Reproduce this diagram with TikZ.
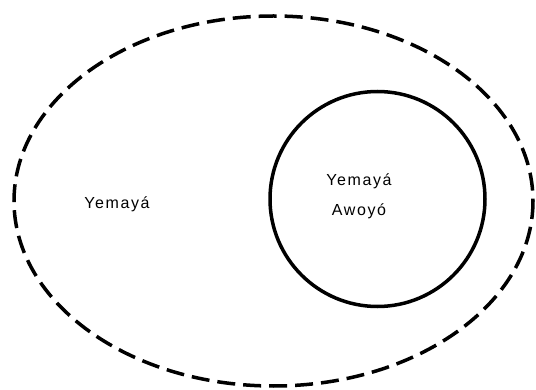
\documentclass[tikz,border=0pt]{standalone}
\usepackage{fontspec}
\setmainfont{Liberation Sans}[LetterSpace=10]
\usepackage{tikz}
\usetikzlibrary{positioning}

\begin{document}
\begin{tikzpicture}[
    x=1pt, y=-1pt,
    outer/.style={draw, line width=3.5pt, dash pattern=on 18pt off 8pt},
    inner/.style={draw, line width=3.5pt},
    every node/.style={font=\fontsize{16}{20}\selectfont, align=center},
]
    \useasboundingbox (0,0) rectangle (536,390);

    % Outer set
    \draw[outer] (273.5,201) ellipse [x radius=259.5, y radius=185];
    \node (yemaya) at (117,204) {Yemayá};

    % Inner set
    \draw[inner] (377.5,199) circle [radius=107.5];
    \node (awoyo) at (359,196) {Yemayá\\[10pt]Awoyó};
\end{tikzpicture}
\end{document}
